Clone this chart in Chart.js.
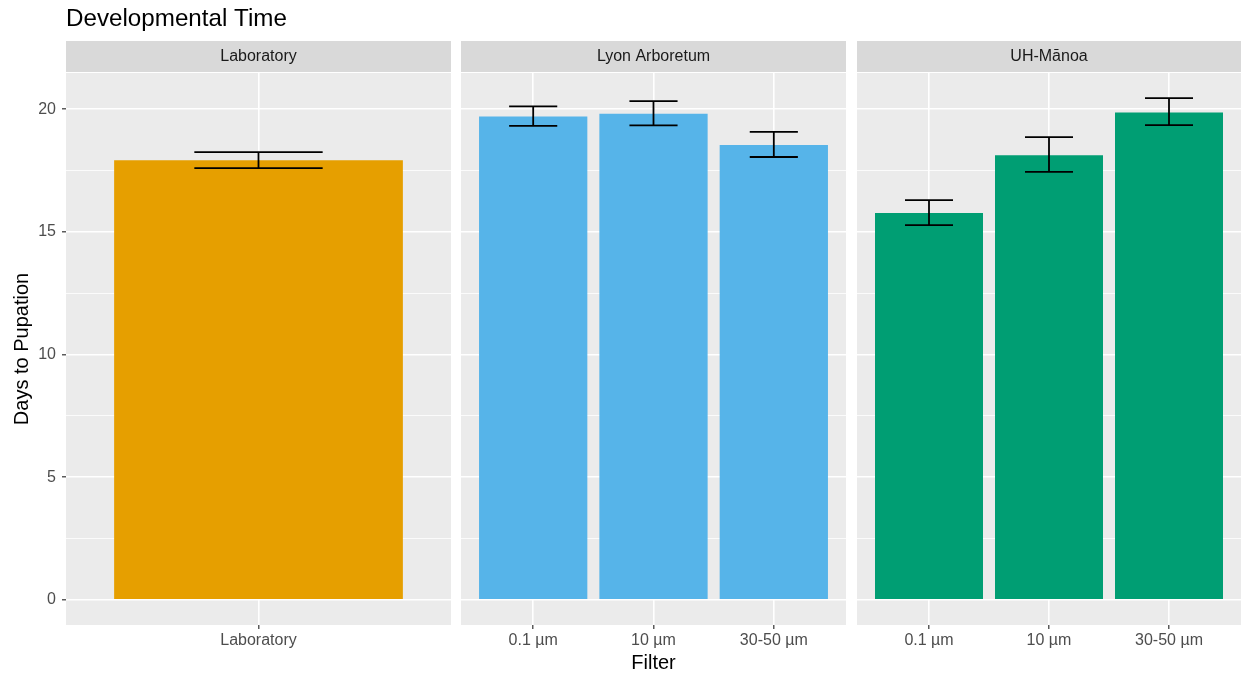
<!DOCTYPE html>
<html>
<head>
<meta charset="utf-8">
<script src="https://cdn.jsdelivr.net/npm/chart.js@4.4.1/dist/chart.umd.min.js"></script>
<style>
  body { margin: 0; background: #fff; }
  #wrap { position: relative; width: 1241px; height: 676px; overflow: hidden; }
  canvas { position: absolute; top: 0; }
</style>
</head>
<body>
<div id="wrap">
  <canvas id="c-lab" width="451" height="676" style="left:0px"></canvas>
  <canvas id="c-lyon" width="385" height="676" style="left:461px"></canvas>
  <canvas id="c-uh" width="384" height="676" style="left:857px"></canvas>
</div>
<script>
/* =====================
   DATA
===================== */

const chartTitle = 'Developmental Time';
const panels = ['Laboratory', 'Lyon Arboretum', 'UH-Mānoa'];

const labFilters = ['Laboratory'];
const labMeans = [17.92];
const labLow = [17.60];
const labHigh = [18.25];

const lyonFilters = ['0.1 µm', '10 µm', '30-50 µm'];
const lyonMeans = [19.70, 19.81, 18.54];
const lyonLow = [19.32, 19.34, 18.05];
const lyonHigh = [20.11, 20.33, 19.07];

const uhFilters = ['0.1 µm', '10 µm', '30-50 µm'];
const uhMeans = [15.77, 18.12, 19.86];
const uhLow = [15.27, 17.44, 19.35];
const uhHigh = [16.29, 18.86, 20.45];

const yTicks = [0, 5, 10, 15, 20];

/* =====================
   SHARED SETTINGS
===================== */

const FONT = '"Liberation Sans", Arial, Helvetica, sans-serif';
const topVal = Math.max(...labHigh, ...lyonHigh, ...uhHigh);
const yPad = topVal * 0.05;
const yMin = -yPad;
const yMax = topVal + yPad;

// major ticks plus ggplot-style minor lines halfway between
const yAll = [];
yTicks.forEach((v, i) => {
    yAll.push(v);
    if (i < yTicks.length - 1) yAll.push((v + yTicks[i + 1]) / 2);
});

const isMajor = v => yTicks.includes(v);

const panelPlugin = {
    id: 'panel',
    beforeDraw(chart, args, opts) {
        const { ctx, chartArea: a } = chart;
        ctx.save();
        ctx.fillStyle = '#EBEBEB';
        ctx.fillRect(a.left, a.top, a.right - a.left, a.bottom - a.top);
        // strip
        ctx.fillStyle = '#D9D9D9';
        ctx.fillRect(a.left, 41, a.right - a.left, 31);
        ctx.fillStyle = '#1A1A1A';
        ctx.font = '16px ' + FONT;
        ctx.textAlign = 'center';
        ctx.textBaseline = 'middle';
        ctx.fillText(opts.strip, (a.left + a.right) / 2, 57);
        if (opts.title) {
            ctx.fillStyle = '#000';
            ctx.font = '24.2px ' + FONT;
            ctx.textAlign = 'left';
            ctx.textBaseline = 'alphabetic';
            ctx.fillText(opts.title, a.left, 26);
        }
        ctx.restore();
    },
    afterDatasetsDraw(chart, args, opts) {
        const { ctx } = chart;
        const x = chart.scales.x, y = chart.scales.y;
        ctx.save();
        ctx.strokeStyle = '#000';
        ctx.lineWidth = 1.8;
        opts.low.forEach((lo, i) => {
            const hi = opts.high[i];
            const xc = x.getPixelForValue(i + 1);
            const x0 = x.getPixelForValue(i + 1 - 0.2);
            const x1 = x.getPixelForValue(i + 1 + 0.2);
            const yl = y.getPixelForValue(lo);
            const yh = y.getPixelForValue(hi);
            ctx.beginPath();
            ctx.moveTo(x0, yh); ctx.lineTo(x1, yh);
            ctx.moveTo(x0, yl); ctx.lineTo(x1, yl);
            ctx.moveTo(xc, yh); ctx.lineTo(xc, yl);
            ctx.stroke();
        });
        ctx.restore();
    }
};

/* =====================
   CREATE CHARTS
===================== */

function makePanel(id, strip, filters, means, low, high, color, first, middle) {
    const n = filters.length;
    return new Chart(document.getElementById(id), {
        type: 'bar',
        data: {
            datasets: [{
                data: filters.map((f, i) => ({ x: i + 1, y: means[i] })),
                backgroundColor: color,
                borderWidth: 0,
                barPercentage: n === 1 ? 0.9 / 1.2 : 0.9,
                categoryPercentage: 1
            }]
        },
        options: {
            responsive: false,
            animation: false,
            layout: { padding: { top: 73, left: 0, right: 0, bottom: 0 } },
            plugins: {
                legend: { display: false },
                tooltip: { enabled: false },
                panel: { strip: strip, title: first ? chartTitle : null, low: low, high: high }
            },
            scales: {
                x: {
                    type: 'linear',
                    min: 0.4,
                    max: n + 0.6,
                    offset: false,
                    afterBuildTicks: s => { s.ticks = filters.map((f, i) => ({ value: i + 1 })); },
                    afterFit: s => { s.height = 51; },
                    border: { display: false },
                    grid: {
                        offset: false,
                        color: '#FFFFFF',
                        lineWidth: 1.6,
                        tickColor: '#333333',
                        tickLength: 4,
                        tickWidth: 1.2
                    },
                    ticks: {
                        color: '#4D4D4D',
                        font: { family: FONT, size: 16 },
                        padding: 2,
                        maxRotation: 0,
                        autoSkip: false,
                        callback: v => filters[v - 1]
                    },
                    title: {
                        display: middle,
                        text: 'Filter',
                        color: '#000',
                        font: { family: FONT, size: 20 },
                        padding: { top: 0, bottom: 1 }
                    }
                },
                y: {
                    display: true,
                    min: yMin,
                    max: yMax,
                    afterBuildTicks: s => { s.ticks = yAll.map(v => ({ value: v })); },
                    afterFit: s => { s.width = first ? 66 : 0; },
                    border: { display: false },
                    grid: {
                        color: '#FFFFFF',
                        lineWidth: c => isMajor(c.tick.value) ? 1.6 : 0.8,
                        drawTicks: first,
                        tickColor: c => isMajor(c.tick.value) ? '#333333' : 'rgba(0,0,0,0)',
                        tickLength: 4,
                        tickWidth: 1.2
                    },
                    ticks: {
                        display: first,
                        color: '#4D4D4D',
                        font: { family: FONT, size: 16 },
                        padding: 6,
                        callback: v => isMajor(v) ? String(v) : ''
                    },
                    title: {
                        display: first,
                        text: 'Days to Pupation',
                        color: '#000',
                        font: { family: FONT, size: 20 },
                        padding: { top: 10.5, bottom: 0 }
                    }
                }
            }
        },
        plugins: [panelPlugin]
    });
}

const chartLab = makePanel('c-lab', panels[0], labFilters, labMeans, labLow, labHigh, '#E69F00', true, false);
const chartLyon = makePanel('c-lyon', panels[1], lyonFilters, lyonMeans, lyonLow, lyonHigh, '#56B4E9', false, true);
const chartUH = makePanel('c-uh', panels[2], uhFilters, uhMeans, uhLow, uhHigh, '#009E73', false, false);
</script>
</body>
</html>
